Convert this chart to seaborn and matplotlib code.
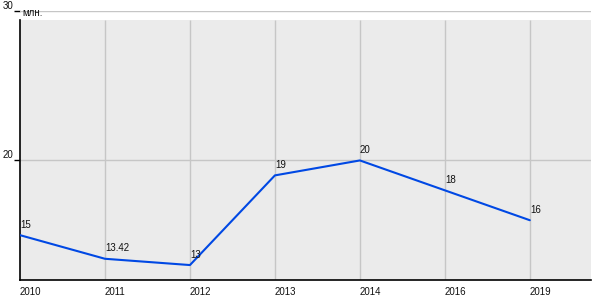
import matplotlib
matplotlib.use("Agg")
import matplotlib.pyplot as plt
import seaborn as sns
import pandas as pd

years = ["2010", "2011", "2012", "2013", "2014", "2016", "2019"]
values = [15, 13.42, 13, 19, 20, 18, 16]
value_labels = ["15", "13.42", "13", "19", "20", "18", "16"]
y_ticks = [20, 30]
unit_label = "млн."

sns.set_style("white")
plt.rcParams["font.family"] = ["Liberation Sans", "DejaVu Sans"]

fig = plt.figure(figsize=(6, 3), dpi=100)
ax = fig.add_axes([20/600, 20/300, 571/600, 269/300])
ax.set_facecolor("white")

ymin, ymax, fill_top = 12, 30, 29.4
df = pd.DataFrame({"year": years, "value": values})
sns.lineplot(data=df, x="year", y="value", sort=False, color="#0048e4",
             linewidth=1.5, ax=ax, zorder=3)

ax.set_xlim(0, 6.72)
ax.set_ylim(ymin, ymax)
ax.axhspan(ymin, fill_top, color="#ebebeb", zorder=0, lw=0)
ax.vlines(range(1, len(years)), ymin, fill_top, color="#c6c6c6", lw=1, zorder=1)
for t in y_ticks:
    ax.axhline(t, color="#c6c6c6", lw=1, zorder=1)

for s in ["top", "right"]:
    ax.spines[s].set_visible(False)
ax.spines["left"].set_bounds(ymin, fill_top)
ax.spines["left"].set_color("black")
ax.spines["bottom"].set_color("black")
ax.spines["left"].set_linewidth(1.2)
ax.spines["bottom"].set_linewidth(1.2)

ax.set_xticks(range(len(years)))
ax.set_xticklabels(years, ha="left", fontsize=7, color="#111111")
ax.tick_params(axis="x", length=0, pad=5)
ax.set_yticks(y_ticks)
ax.set_yticklabels([str(t) for t in y_ticks], fontsize=7, color="#111111", va="bottom")
ax.tick_params(axis="y", length=4, width=1, color="black", direction="out", pad=1, left=True)
ax.set_xlabel("")
ax.set_ylabel("")

for i, (v, lab) in enumerate(zip(values, value_labels)):
    ax.annotate(lab, (i, v), xytext=(0, 4), textcoords="offset points",
                ha="left", va="bottom", fontsize=7, color="#111111", zorder=4)

ax.annotate(unit_label, (0, ymax), xytext=(2, 2), textcoords="offset points",
            fontsize=7, color="#111111", ha="left", va="top", annotation_clip=False)

fig.savefig("out.png", dpi=100)
